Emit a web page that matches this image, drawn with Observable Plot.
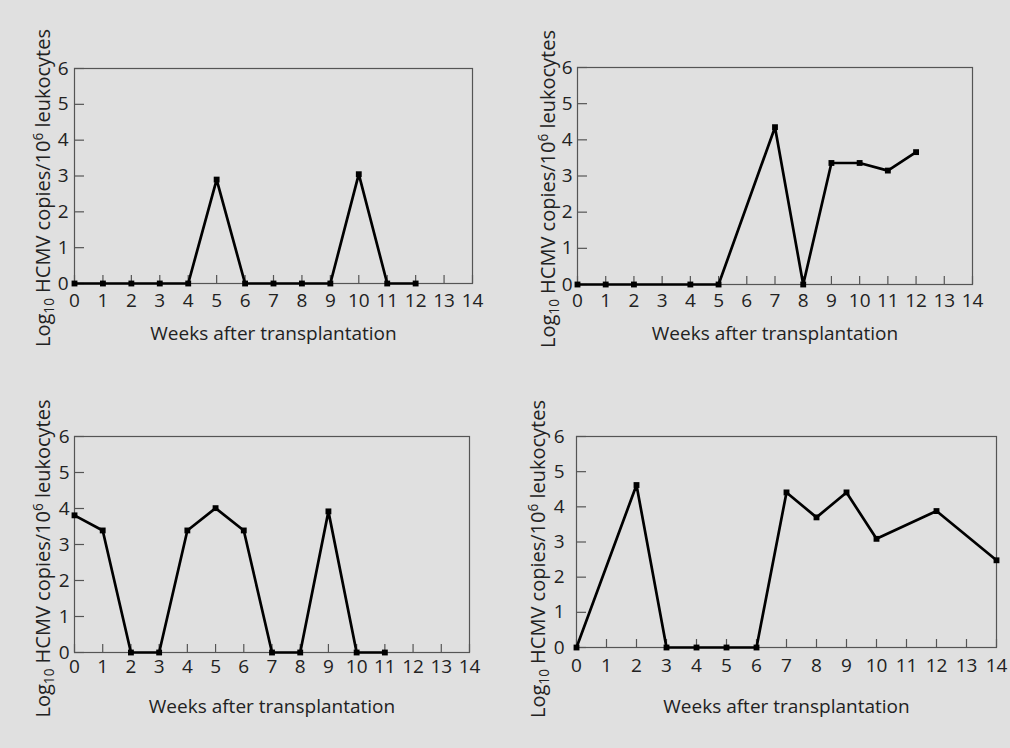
<!DOCTYPE html>
<html>
<head>
<meta charset="utf-8">
<script src="https://cdn.jsdelivr.net/npm/d3@7"></script>
<script src="https://cdn.jsdelivr.net/npm/@observablehq/plot@0.6"></script>
<style>
  html, body { margin: 0; padding: 0; background: #e0e0e0; }
  #wrap { position: relative; width: 1010px; height: 748px; background: #e0e0e0; overflow: hidden; }
  .panel { position: absolute; }
</style>
</head>
<body>
<div id="wrap"></div>
<script>
// ---- Data ----
const weekTicks = [0, 1, 2, 3, 4, 5, 6, 7, 8, 9, 10, 11, 12, 13, 14];
const logTicks = [0, 1, 2, 3, 4, 5, 6];
const xTitle = "Weeks after transplantation";
const yTitleParts = [
  {text: "Log", shift: null},
  {text: "10", shift: "sub"},
  {text: " HCMV copies/10", shift: null},
  {text: "6", shift: "sup"},
  {text: " leukocytes", shift: null}
];
const yTitle = yTitleParts.map(d => d.text).join("");

const weeksA = [0, 1, 2, 3, 4, 5, 6, 7, 8, 9, 10, 11, 12];
const valuesA = [0, 0, 0, 0, 0, 2.9, 0, 0, 0, 0, 3.05, 0, 0];

const weeksB = [0, 1, 2, 4, 5, 7, 8, 9, 10, 11, 12];
const valuesB = [0, 0, 0, 0, 0, 4.35, 0, 3.36, 3.36, 3.15, 3.66];

const weeksC = [0, 1, 2, 3, 4, 5, 6, 7, 8, 9, 10, 11];
const valuesC = [3.81, 3.39, 0, 0, 3.39, 4.01, 3.39, 0, 0, 3.92, 0, 0];

const weeksD = [0, 2, 3, 4, 5, 6, 7, 8, 9, 10, 12, 14];
const valuesD = [0, 4.62, 0, 0, 0, 0, 4.41, 3.7, 4.41, 3.09, 3.88, 2.48];

// ---- Layout (positions only) ----
const panels = [
  {weeks: weeksA, values: valuesA, left: 0,   top: 0,   mL: 74, mR: 33, mT: 68, mB: 91,  xGap: 10, yGap: 6,  xLab: 56, yOff: 39, yDy: 12},
  {weeks: weeksB, values: valuesB, left: 505, top: 0,   mL: 72, mR: 38, mT: 67, mB: 90,  xGap: 9,  yGap: 5,  xLab: 55, yOff: 37, yDy: 13},
  {weeks: weeksC, values: valuesC, left: 0,   top: 374, mL: 74, mR: 36, mT: 62, mB: 96,  xGap: 7,  yGap: 5,  xLab: 60, yOff: 39, yDy: 14},
  {weeks: weeksD, values: valuesD, left: 505, top: 374, mL: 71, mR: 14, mT: 62, mB: 101, xGap: 11, yGap: 12, xLab: 65, yOff: 46, yDy: 17}
];
const Y_TITLE_LENGTH = 318;

const wrap = document.getElementById("wrap");
const FONT = "'Open Sans', 'Liberation Sans', Arial, sans-serif";
const SVGNS = "http://www.w3.org/2000/svg";

function styleYTitle(chart) {
  chart.querySelectorAll("text").forEach(t => {
    if (t.textContent !== yTitle) return;
    t.textContent = "";
    let pending = 0;
    for (const part of yTitleParts) {
      const ts = document.createElementNS(SVGNS, "tspan");
      ts.textContent = part.text;
      let shift = 0;
      if (part.shift === "sub") { ts.setAttribute("font-size", "0.68em"); shift = 0.2; }
      if (part.shift === "sup") { ts.setAttribute("font-size", "0.68em"); shift = -0.36; }
      // dy in px relative to base size
      const base = parseFloat(getComputedStyle(t).fontSize);
      const d = shift * base - pending;
      if (d !== 0) ts.setAttribute("dy", d.toFixed(2) + "px");
      pending = shift * base;
      t.appendChild(ts);
    }
    const len = t.getComputedTextLength();
    if (len > 0) {
      const base = parseFloat(getComputedStyle(t).fontSize);
      const newSize = base * Y_TITLE_LENGTH / len;
      t.setAttribute("font-size", newSize.toFixed(2));
      // recompute dy offsets for new size
      let pend = 0;
      t.querySelectorAll("tspan").forEach((ts, i) => {
        const part = yTitleParts[i];
        const shift = part.shift === "sub" ? 0.2 : part.shift === "sup" ? -0.36 : 0;
        const d = shift * newSize - pend;
        if (d !== 0) ts.setAttribute("dy", d.toFixed(2) + "px"); else ts.removeAttribute("dy");
        pend = shift * newSize;
      });
    }
  });
}

for (const p of panels) {
  const data = p.weeks.map((w, i) => ({week: w, value: p.values[i]}));
  const chart = Plot.plot({
    width: 505,
    height: 374,
    marginLeft: p.mL,
    marginRight: p.mR,
    marginTop: p.mT,
    marginBottom: p.mB,
    style: {background: "transparent", fontFamily: FONT, fontSize: "19px", color: "#222"},
    x: {domain: [0, 14]},
    y: {domain: [0, 6]},
    marks: [
      Plot.frame({stroke: "#555", strokeWidth: 1.2}),
      Plot.axisX({ticks: weekTicks, tickSize: -8, tickPadding: p.xGap + 8, tickFormat: d => String(d), label: null, stroke: "#555", strokeWidth: 1.2, fontSize: 19, fill: "#222"}),
      Plot.axisY({ticks: logTicks, tickSize: -10, tickPadding: p.yGap + 10, tickFormat: d => String(d), label: null, stroke: "#555", strokeWidth: 1.2, fontSize: 19, fill: "#222"}),
      Plot.line(data, {x: "week", y: "value", stroke: "#000", strokeWidth: 2.7, strokeLinejoin: "miter"}),
      Plot.dot(data, {x: "week", y: "value", symbol: "square", r: 3.3, fill: "#000", stroke: "none"}),
      Plot.text([xTitle], {text: d => d, frameAnchor: "bottom", dy: p.xLab, lineAnchor: "bottom", fontSize: 19, fill: "#222"}),
      Plot.text([yTitle], {text: d => d, frameAnchor: "left", rotate: -90, dx: -p.yOff, dy: p.yDy, lineAnchor: "top", textAnchor: "middle", fontSize: 20, fill: "#222"})
    ]
  });
  chart.classList.add("panel");
  chart.style.left = p.left + "px";
  chart.style.top = p.top + "px";
  wrap.appendChild(chart);
  styleYTitle(chart);
}
</script>
</body>
</html>
